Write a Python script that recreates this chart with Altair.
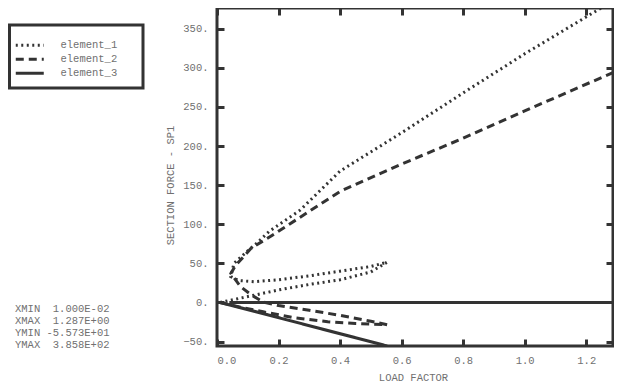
import altair as alt
import pandas as pd

# ---------------- data ----------------
names = ["element_1", "element_2", "element_3"]

# element_1 (dotted): load, unload, reload
lf_e1 = [0.01, 0.1, 0.2, 0.3, 0.4, 0.5, 0.553,
         0.5, 0.4, 0.3, 0.2, 0.12, 0.07, 0.045,
         0.055, 0.1, 0.13, 0.17, 0.27, 0.4, 0.6, 0.8, 1.0, 1.287]
sf_e1 = [0.0, 7.5, 16.0, 23.0, 29.0, 39.0, 51.5,
         46.0, 40.0, 34.0, 29.0, 26.5, 28.0, 33.0,
         50.0, 66.0, 76.0, 91.0, 118.0, 168.0, 217.0, 268.0, 318.0, 385.8]

# element_2 (dashed)
lf_e2 = [0.01, 0.07, 0.15, 0.25, 0.36, 0.45, 0.553,
         0.5, 0.4, 0.3, 0.2, 0.15, 0.11, 0.077, 0.045,
         0.06, 0.11, 0.18, 0.29, 0.4, 0.6, 0.8, 1.0, 1.287]
sf_e2 = [0.0, -5.5, -12.0, -19.5, -24.7, -27.0, -28.5,
         -24.0, -16.5, -10.0, -4.0, 0.5, 10.0, 20.0, 37.0,
         47.0, 69.0, 86.0, 114.0, 142.0, 177.0, 210.0, 245.0, 294.0]

# element_3 (solid)
lf_e3 = [0.01, 0.553, 0.045, 0.045, 1.287]
sf_e3 = [0.0, -55.73, -3.5, 0.0, 0.0]

x_ticks = [0.0, 0.2, 0.4, 0.6, 0.8, 1.0, 1.2]
y_ticks = [-50, 0, 50, 100, 150, 200, 250, 300, 350]
x_domain = [0.0, 1.287]
y_domain = [-55.73, 376.6]

NB = "\u00a0"
stats_lines = ["XMIN" + NB * 2 + "1.000E-02",
               "XMAX" + NB * 2 + "1.287E+00",
               "YMIN" + NB + "-5.573E+01",
               "YMAX" + NB * 2 + "3.858E+02"]

rows = []
for name, xs_, ys_ in zip(names, [lf_e1, lf_e2, lf_e3], [sf_e1, sf_e2, sf_e3]):
    for i, (xv, yv) in enumerate(zip(xs_, ys_)):
        rows.append({"element": name, "lf": xv, "sf": yv, "step": i})
df = pd.DataFrame(rows)

FONT = "Liberation Mono"
GRAY = "#707070"
INK = "#333333"

xscale = alt.Scale(domain=x_domain, nice=False, zero=False)
yscale = alt.Scale(domain=y_domain, nice=False, zero=False)

lines = alt.Chart(df).mark_line(clip=True, strokeWidth=3, color=INK).encode(
    x=alt.X("lf:Q", scale=xscale,
            axis=alt.Axis(orient="bottom", values=x_ticks, format=".1f",
                          title="LOAD FACTOR", offset=-7, labelPadding=9,
                          titleX=196, titlePadding=7)),
    y=alt.Y("sf:Q", scale=yscale,
            axis=alt.Axis(orient="left", values=y_ticks,
                          labelExpr="format(datum.value, 'd') + '.'",
                          title="SECTION FORCE - SP1", offset=-7, labelPadding=9,
                          titleY=177, titlePadding=7)),
    strokeDash=alt.StrokeDash(
        "element:N",
        scale=alt.Scale(domain=names, range=[[2, 3.5], [8, 5], [1, 0]]),
        legend=alt.Legend(title=None, orient="none", legendX=-197, legendY=32,
                          symbolType="M-2.71,0H5.29", symbolStrokeWidth=3, symbolSize=49,
                          symbolStrokeColor=INK, symbolFillColor="transparent",
                          labelFont=FONT, labelFontSize=10.5,
                          labelColor=GRAY, labelOffset=30, rowPadding=1, padding=0),
    ),
    order=alt.Order("step:Q"),
)

mirror = alt.Chart(df).mark_point(opacity=0, clip=True).encode(
    x=alt.X("lf:Q", scale=xscale,
            axis=alt.Axis(orient="top", values=x_ticks, labels=False, title=None, offset=-7)),
    y=alt.Y("sf:Q", scale=yscale,
            axis=alt.Axis(orient="right", values=y_ticks, labels=False, title=None, offset=-7)),
)

# frame around the legend
legend_box = alt.Chart(pd.DataFrame({"k": [0]})).mark_rect(
    filled=False, stroke=INK, strokeWidth=3
).encode(
    x=alt.value(-207.5), x2=alt.value(-74),
    y=alt.value(17), y2=alt.value(80),
)

stats = alt.Chart(pd.DataFrame({"k": [0]})).mark_text(
    align="left", baseline="top", font=FONT, fontSize=10.5, color=GRAY, lineHeight=12
).encode(
    x=alt.value(-202),
    y=alt.value(296),
    text=alt.value(stats_lines),
)

chart = alt.layer(lines, mirror, legend_box, stats).resolve_axis(
    x="independent", y="independent"
).properties(
    width=396, height=338,
    autosize=alt.AutoSizeParams(type="none"),
    padding={"left": 209, "top": 0, "right": 1, "bottom": 36},
).configure_view(
    stroke=INK, strokeWidth=3
).configure_axis(
    grid=False, domain=False, tickSize=7, tickWidth=3, tickColor=INK,
    labelFont=FONT, labelFontSize=10.5, labelColor=GRAY,
    titleFont=FONT, titleFontSize=10.5, titleColor=GRAY, titleFontWeight="normal",
)

chart.save("out.html", embed_options={"renderer": "svg", "actions": False})
